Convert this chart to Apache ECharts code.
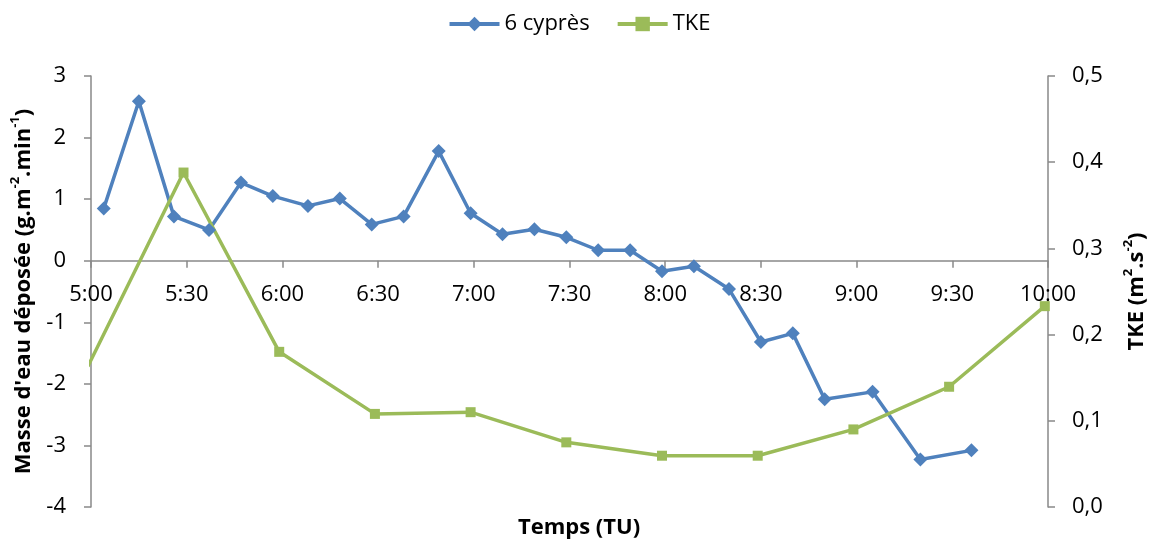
<!DOCTYPE html>
<html>
<head>
<meta charset="utf-8">
<script src="https://cdn.jsdelivr.net/npm/echarts@6/dist/echarts.min.js"></script>
<style>html,body{margin:0;padding:0;background:#fff;}#c{width:1158px;height:544px;}</style>
</head>
<body>
<div id="c"></div>
<script>
// ---- data ----
const cypresTimes = ["5:04","5:15","5:26","5:37","5:47","5:57","6:08","6:18","6:28","6:38","6:49","6:59","7:09","7:19","7:29","7:39","7:49","7:59","8:09","8:20","8:30","8:40","8:50","9:05","9:20","9:36"];
const cypresValues = [0.85,2.59,0.72,0.50,1.27,1.05,0.89,1.01,0.59,0.72,1.78,0.77,0.43,0.51,0.38,0.17,0.17,-0.17,-0.09,-0.46,-1.32,-1.18,-2.25,-2.13,-3.23,-3.08];
const tkeTimes = ["4:59","5:29","5:59","6:29","6:59","7:29","7:59","8:29","8:59","9:29","9:59"];
const tkeValues = [0.163,0.388,0.180,0.108,0.110,0.075,0.0595,0.0595,0.090,0.1395,0.233];
const seriesNames = ["6 cyprès","TKE"];
const xRange = ["5:00","10:00"];
const xStepMinutes = 30;
const leftRange = [-4,3], leftStep = 1;
const rightRange = [0,0.5], rightStep = 0.1;

function toMin(s){const p=s.split(":");return (+p[0])*60+(+p[1]);}
function fmtTime(v){const h=Math.floor(v/60),m=Math.round(v-h*60);return h+":"+(m<10?"0":"")+m;}

const FONT = "'Open Sans', 'Liberation Sans', sans-serif";
const axisGray = "#898989";
const GRID = {left:91,right:110,top:76,bottom:37};
const plotH = 544 - GRID.top - GRID.bottom;
// move the time axis up so that it crosses the left axis at 0
const zeroOffset = -plotH * (0 - leftRange[0]) / (leftRange[1] - leftRange[0]);

const chart = echarts.init(document.getElementById('c'));
chart.setOption({
  animation:false,
  backgroundColor:'#fff',
  title:{
    text:'Temps (TU)', left:'center', bottom:0,
    textStyle:{fontFamily:FONT,fontSize:22,fontWeight:'bold',color:'#000'}
  },
  legend:{
    top:8, left:'center',
    itemWidth:50, itemHeight:18, itemGap:26,
    lineStyle:{width:4},
    textStyle:{fontFamily:FONT,fontSize:22,color:'#000'},
    data:seriesNames
  },
  grid:Object.assign({containLabel:false},GRID),
  xAxis:{
    type:'value', position:'bottom', offset:zeroOffset,
    min:toMin(xRange[0]), max:toMin(xRange[1]), interval:xStepMinutes,
    axisLine:{show:true,onZero:false,lineStyle:{color:axisGray,width:1.5}},
    axisTick:{show:true,inside:false,length:7,lineStyle:{color:axisGray,width:1.5}},
    axisLabel:{formatter:fmtTime,fontFamily:FONT,fontSize:22,color:'#000',margin:23,showMinLabel:true,showMaxLabel:true},
    splitLine:{show:false}
  },
  yAxis:[{
    type:'value', position:'left',
    min:leftRange[0], max:leftRange[1], interval:leftStep,
    axisLine:{show:true,onZero:false,lineStyle:{color:axisGray,width:1.5}},
    axisTick:{show:true,inside:false,length:7,lineStyle:{color:axisGray,width:1.5}},
    axisLabel:{fontFamily:FONT,fontSize:22,color:'#000',margin:25},
    splitLine:{show:false},
    name:"{n|Masse d'eau déposée (g.m}{s|-2}{n|.min}{s|-1}{n|)}",
    nameLocation:'middle', nameRotate:90, nameGap:56,
    nameTextStyle:{fontFamily:FONT,fontSize:22,fontWeight:'bold',color:'#000',
      rich:{n:{fontFamily:FONT,fontSize:22,fontWeight:'bold',color:'#000',lineHeight:26,verticalAlign:'bottom'},
            s:{fontFamily:FONT,fontSize:13,fontWeight:'bold',color:'#000',lineHeight:26,verticalAlign:'top'}}}
  },{
    type:'value', position:'right',
    min:rightRange[0], max:rightRange[1], interval:rightStep,
    axisLine:{show:true,onZero:false,lineStyle:{color:axisGray,width:1.5}},
    axisTick:{show:true,inside:false,length:7,lineStyle:{color:axisGray,width:1.5}},
    axisLabel:{fontFamily:FONT,fontSize:22,color:'#000',margin:24,formatter:v=>v.toFixed(1).replace('.',',')},
    splitLine:{show:false},
    name:"{n|TKE (m}{s|2}{n|.s}{s|-2}{n|)}",
    nameLocation:'middle', nameRotate:90, nameGap:74,
    nameTextStyle:{fontFamily:FONT,fontSize:22,fontWeight:'bold',color:'#000',
      rich:{n:{fontFamily:FONT,fontSize:22,fontWeight:'bold',color:'#000',lineHeight:26,verticalAlign:'bottom'},
            s:{fontFamily:FONT,fontSize:13,fontWeight:'bold',color:'#000',lineHeight:26,verticalAlign:'top'}}}
  }],
  series:[{
    name:seriesNames[0], type:'line', xAxisIndex:0, yAxisIndex:0,
    data:cypresTimes.map((t,i)=>[toMin(t),cypresValues[i]]),
    symbol:'diamond', symbolSize:14,
    lineStyle:{color:'#4F81BD',width:3.5},
    itemStyle:{color:'#4F81BD'},
    clip:true
  },{
    name:seriesNames[1], type:'line', xAxisIndex:0, yAxisIndex:1,
    data:tkeTimes.map((t,i)=>[toMin(t),tkeValues[i]]),
    symbol:'rect', symbolSize:10,
    lineStyle:{color:'#9BBB59',width:3.5},
    itemStyle:{color:'#9BBB59'},
    clip:true
  }]
});
</script>
</body>
</html>
